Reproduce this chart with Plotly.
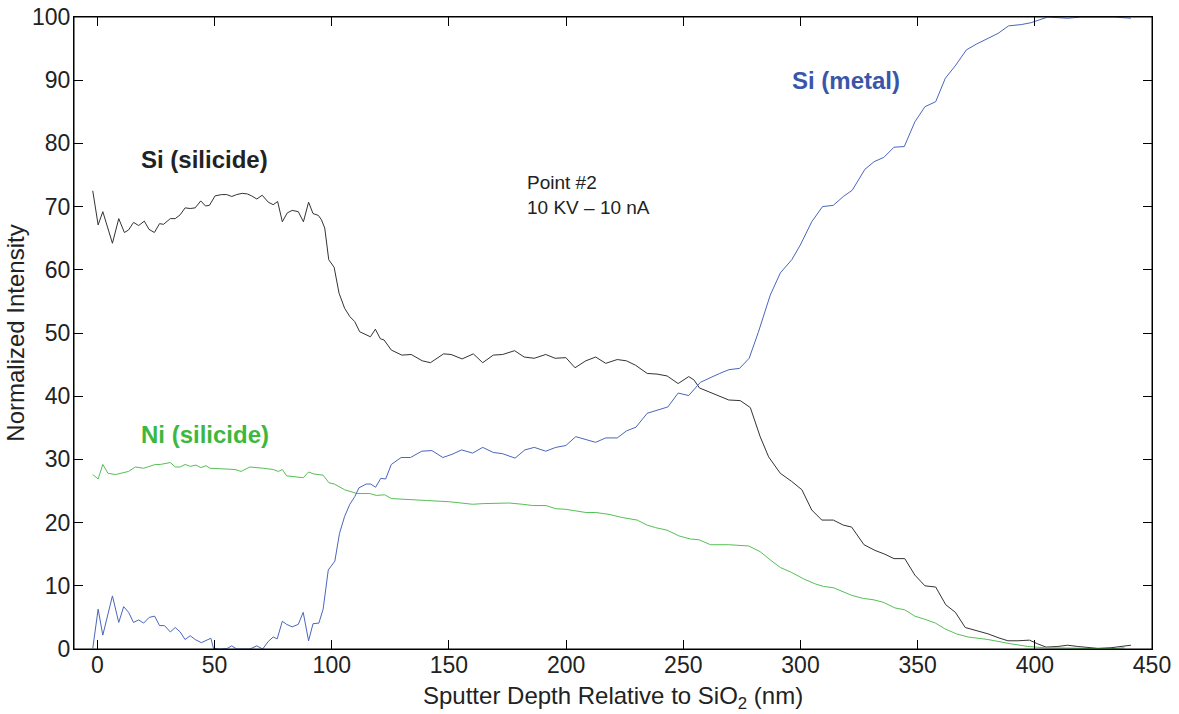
import plotly.graph_objects as go

# ---- Si (silicide) ----
si_sil_x = [-2, 0.3, 2.3, 6.4, 9.1, 11.5, 13.3, 15.4, 17.6, 20, 22, 24.3, 26.5, 28.2, 31.1, 33.2, 35.3,
            37.4, 39.6, 41.7, 44.1, 46.1, 47.8, 50.2, 53, 55.2, 57.3, 59.4, 61.8, 64, 65.8, 68, 70.3,
            72.9, 75, 76.9, 78.9, 81, 83.1, 85.7, 87.9, 90.1, 92, 94.3, 95.6, 97, 98.7, 101, 103.1,
            105.5, 107.7, 109.8, 111.9, 114.5, 116.5, 118.6, 120.7, 122.3, 125.4, 129.9, 133.9, 138.6,
            142.1, 147.7, 150.9, 155.6, 160.4, 164.4, 168.9, 172.9, 178, 182.1, 186.4, 191.3, 195.3,
            199.9, 203.8, 208.4, 212.6, 216.9, 221.8, 225.7, 229.6, 234.6, 238.8, 243.1, 247.8, 252.3,
            254.5, 256.9, 261.6, 265.1, 269.4, 274.3, 278.6, 282.8, 286.4, 291.4, 296.3, 300.6, 304.8,
            309.1, 314, 318.3, 321.8, 327.1, 331.8, 336, 339.9, 344.5, 348.8, 353.1, 357.7, 362, 366.1,
            370.3, 375, 380, 384.3, 388.5, 392.8, 397.7, 401.3, 404.8, 409.8, 414, 418.3, 422.6, 426.8,
            432.5, 436.7, 441]
si_sil_y = [72.5, 67.1, 69.2, 64.2, 68.1, 65.9, 66.3, 67.5, 67.0, 67.7, 66.4, 65.9, 67.3, 67.2, 68.1, 68.1, 68.7,
            69.8, 69.7, 69.8, 70.9, 70.1, 70.2, 71.7, 71.9, 71.9, 71.6, 71.9, 72.1, 72.0, 71.7, 71.2, 71.8,
            70.7, 70.3, 70.8, 67.6, 69.0, 69.4, 69.2, 67.6, 70.7, 68.9, 68.6, 67.9, 66.6, 61.6, 60.4, 56.3,
            53.9, 52.6, 51.8, 50.2, 49.7, 49.4, 50.6, 49.1, 48.9, 47.3, 46.5, 46.6, 45.6,
            45.3, 46.7, 46.6, 45.9, 46.7, 45.3, 46.5, 46.6, 47.2, 46.2, 46.0, 46.6, 46.0,
            46.1, 44.5, 45.6, 46.2, 45.2, 45.8, 45.6, 44.9, 43.6, 43.5, 43.2, 42.0, 43.1,
            42.6, 41.3, 40.6, 40.0, 39.4, 39.3, 38.2, 33.6, 30.4, 27.8, 26.5, 25.2, 22.0,
            20.4, 20.4, 19.6, 19.3, 16.5, 15.6, 15.0, 14.3, 14.3, 11.7, 10.0, 9.8, 7.0, 5.8,
            3.4, 2.9, 2.4, 1.8, 1.3, 1.3, 1.4, 0.8, 0.3, 0.4, 0.6, 0.4, 0.2, 0.1,
            0.2, 0.4, 0.6]

# ---- Ni (silicide) ----
ni_sil_x = [-2, 0.3, 2.3, 4.5, 7.7, 10.5, 13.3, 16.2, 19.7, 24.7, 26.8, 31.1, 33.2, 35.3, 37.4, 39.6, 42.1,
            44.1, 46.3, 48.1, 52.3, 58.7, 61.3, 65.1, 70.8, 75, 77.2, 78.9, 80.7, 85, 87.8, 90.1, 92.3,
            96.3, 98.8, 101.1, 105.5, 110.8, 116.2, 119, 122.6, 125.4, 133.2, 140.3, 150.2, 160.1, 164.4,
            171.5, 175.7, 181.4, 185.7, 191.4, 195.6, 199.9, 204.1, 208.4, 212.6, 218.3, 224, 230.3,
            234.6, 238.2, 243.1, 248.1, 253, 256.6, 261.6, 269.4, 277.9, 282.8, 287.1, 291.4, 296.3,
            301.3, 306.3, 309.8, 314, 317.6, 321.8, 326.8, 331, 335.3, 340.3, 344.5, 348.8, 353.1,
            357.6, 361.6, 366.5, 371.5, 380, 388.5, 397, 404.1, 418.3, 432.5, 438.2]
ni_sil_y = [27.6, 26.9, 29.2, 27.8, 27.6, 27.8, 28.1, 28.8, 28.6, 29.2, 29.2, 29.5, 28.8, 28.8, 29.2, 28.9, 29.1,
            28.7, 29.0, 28.6, 28.5, 28.4, 28.1, 28.8, 28.6, 28.4, 28.1, 28.4, 27.4, 27.2, 27.1, 28.0, 27.7,
            27.5, 26.3, 26.1, 25.2, 24.6, 24.6, 24.3, 24.4, 23.8, 23.6, 23.5, 23.3, 22.9, 23.0,
            23.0, 23.1, 22.9, 22.7, 22.7, 22.2, 22.1, 21.9, 21.6, 21.6, 21.3, 20.8, 20.4,
            19.6, 19.2, 18.8, 17.9, 17.4, 17.3, 16.5, 16.5, 16.3, 15.4, 14.1, 12.9, 12.1,
            11.1, 10.3, 9.9, 9.7, 9.2, 8.5, 8.0, 7.8, 7.4, 6.5, 6.2, 5.2, 4.7,
            4.1, 3.2, 2.4, 1.9, 1.5, 0.9, 0.4, 0.2, 0.1, 0.05, 0.2]

# ---- Si (metal) ----
si_met_x = [-2, 0.3, 2.3, 6.4, 9.1, 11.2, 13.3, 15.4, 17.6, 19.7, 22.1, 24.4, 26.5, 28.6, 31.1, 33.2, 35.3,
            37.4, 39.6, 41.7, 44.3, 46.4, 48.4, 49.5, 52.3, 55.2, 57.3, 59.4, 65.1, 68, 70.5, 72.9, 75,
            76.7, 78.9, 80.7, 83.1, 85.7, 87.8, 90.1, 92, 94.5, 96.3, 98.5, 101.3, 103.3, 105.5, 107.7,
            109.8, 111.6, 114.7, 116.6, 118.7, 120.9, 123, 125.4, 129.6, 133.6, 138.4, 142.7, 147.4,
            151.3, 155.4, 160.1, 164.4, 168.9, 172.9, 178.2, 182.4, 186.4, 191.3, 195.6, 199.9, 204.1,
            208.4, 212.6, 216.9, 221.8, 225.7, 229.8, 234.6, 238.8, 243.4, 247.8, 252.3, 257.3, 261.2,
            265.5, 269.5, 274, 278.1, 282, 287.1, 291.4, 296.3, 299.9, 304.8, 309.4, 314, 318.3, 322.1,
            327.5, 331.4, 335.6, 339.9, 344.3, 348.8, 353.1, 357.7, 361.8, 366.3, 370.8, 375, 380,
            384.3, 388.8, 394.2, 398.4, 405.5, 414, 419.7, 426.8, 433.9, 441]
si_met_y = [0.1, 6.3, 2.2, 8.4, 4.2, 6.7, 5.8, 4.2, 4.6, 4.1, 5.0, 5.2, 3.7, 3.7, 2.7, 3.4, 2.7,
            1.5, 2.1, 1.5, 1.0, 1.4, 1.7, 0.1, 0.0, 0.05, 0.5, 0.0, 0.0, 0.5, 0.0, 1.2, 1.9,
            1.6, 4.4, 3.9, 3.5, 3.9, 5.8, 1.3, 4.0, 4.1, 6.3, 12.5, 13.9, 18.3, 21.0, 22.9,
            24.1, 25.5, 26.1, 26.1, 25.6, 27.0, 26.9, 29.2, 30.3, 30.3, 31.3, 31.4, 30.3,
            30.8, 31.5, 31.0, 31.9, 31.1, 30.9, 30.2, 31.5, 31.9, 31.3, 31.9, 32.2, 33.6,
            33.1, 32.7, 33.4, 33.4, 34.5, 35.1, 37.3, 37.8, 38.3, 40.5, 40.1, 42.2, 42.9,
            43.6, 44.2, 44.4, 46.0, 50.1, 56.0, 59.5, 61.6, 63.9, 67.6, 70.0, 70.2, 71.6, 72.6,
            75.9, 77.1, 77.8, 79.4, 79.5, 83.4, 85.8, 86.6, 90.3, 92.4, 94.8, 95.7, 96.6,
            97.4, 98.6, 98.8, 99.1, 100.0, 99.8, 100.0, 100.0, 100.0, 99.8]

x_ticks = [0, 50, 100, 150, 200, 250, 300, 350, 400, 450]
y_ticks = [0, 10, 20, 30, 40, 50, 60, 70, 80, 90, 100]

FONT = "Liberation Sans, Arial, sans-serif"
TXT = "#222222"

fig = go.Figure()
fig.add_trace(go.Scatter(x=si_sil_x, y=si_sil_y, mode="lines", name="Si (silicide)",
                         line=dict(color="#333333", width=1)))
fig.add_trace(go.Scatter(x=ni_sil_x, y=ni_sil_y, mode="lines", name="Ni (silicide)",
                         line=dict(color="#55bf55", width=1)))
fig.add_trace(go.Scatter(x=si_met_x, y=si_met_y, mode="lines", name="Si (metal)",
                         line=dict(color="#4a66bd", width=1)))

fig.add_annotation(x=45.6, y=77.4, text="<b>Si (silicide)</b>", showarrow=False,
                   font=dict(family=FONT, size=24, color=TXT))
fig.add_annotation(x=319.3, y=90.0, text="<b>Si (metal)</b>", showarrow=False,
                   font=dict(family=FONT, size=24, color="#3a56aa"))
fig.add_annotation(x=46, y=34.0, text="<b>Ni (silicide)</b>", showarrow=False,
                   font=dict(family=FONT, size=24, color="#3db83d"))
fig.add_annotation(x=182.3, y=71.8, text="Point #2<br>10 KV \u2013 10 nA", showarrow=False,
                   xanchor="left", align="left",
                   font=dict(family=FONT, size=19, color=TXT))

# x-axis title placed as a paper annotation just below the tick labels
fig.add_annotation(xref="paper", yref="paper", x=0.5, y=0, yanchor="middle", yshift=-48,
                   text="Sputter Depth Relative to SiO<sub>2</sub> (nm)", showarrow=False,
                   font=dict(family=FONT, size=24, color=TXT))

# plot frame
fig.add_shape(type="rect", xref="paper", yref="paper", x0=0, y0=0, x1=1, y1=1,
              line=dict(color="black", width=1), layer="above")

axis_common = dict(showline=True, linecolor="black", linewidth=1, mirror="ticks",
                   ticks="inside", ticklen=9, tickcolor="black", tickwidth=1,
                   showgrid=False, zeroline=False, automargin=False,
                   ticklabeloverflow="allow",
                   tickfont=dict(family=FONT, size=23, color=TXT))

fig.update_layout(
    width=1179, height=714,
    margin=dict(l=74, r=27, t=17, b=65, autoexpand=False),
    paper_bgcolor="white", plot_bgcolor="white",
    showlegend=False,
    xaxis=dict(range=[-10, 450], tickvals=x_ticks, ticktext=[str(v) for v in x_ticks],
               ticklabelstandoff=-5, **axis_common),
    yaxis=dict(range=[0, 100], tickvals=y_ticks, ticktext=[str(v) for v in y_ticks],
               ticklabelstandoff=-2,
               title=dict(text="Normalized Intensity", standoff=0,
                          font=dict(family=FONT, size=24, color=TXT)),
               **axis_common),
)

# remove the default 8 px page margin so the figure fills the window exactly
fig.write_html("out.html", config={"displayModeBar": False},
               post_script="document.body.style.margin='0';document.body.style.overflow='hidden';")
